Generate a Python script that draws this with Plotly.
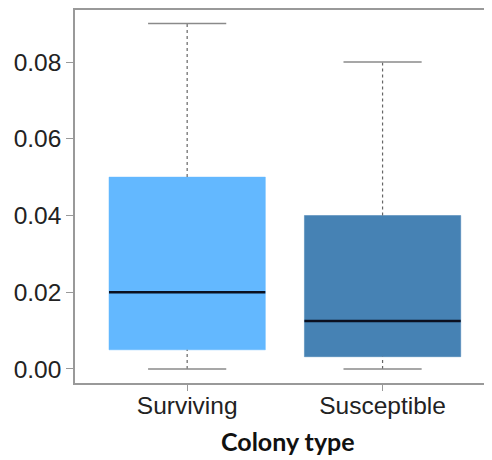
import plotly.graph_objects as go

categories = ["Surviving", "Susceptible"]
q1 = [0.005, 0.0032]
median = [0.020, 0.0125]
q3 = [0.050, 0.040]
lower = [0.0, 0.0]
upper = [0.090, 0.080]
colors = ["#63B8FF", "#4682B4"]
y_ticks = [0.00, 0.02, 0.04, 0.06, 0.08]
y_ticklabels = ["0.00", "0.02", "0.04", "0.06", "0.08"]
x_title = "Colony type"

box_w = 0.8
cap_half = 0.2
pos = list(range(len(categories)))

fig = go.Figure()
for i, c in enumerate(categories):
    # whiskers (dotted)
    fig.add_trace(go.Scatter(x=[pos[i], pos[i]], y=[q3[i], upper[i]], mode="lines",
                             line=dict(color="#666666", width=1.2, dash="dot"),
                             showlegend=False, hoverinfo="skip"))
    fig.add_trace(go.Scatter(x=[pos[i], pos[i]], y=[lower[i], q1[i]], mode="lines",
                             line=dict(color="#666666", width=1.2, dash="dot"),
                             showlegend=False, hoverinfo="skip"))
    # caps
    for v in (upper[i], lower[i]):
        fig.add_trace(go.Scatter(x=[pos[i] - cap_half, pos[i] + cap_half], y=[v, v], mode="lines",
                                 line=dict(color="#8a8a8a", width=1.5),
                                 showlegend=False, hoverinfo="skip"))
    # box body
    fig.add_trace(go.Box(x=[pos[i]], q1=[q1[i]], median=[median[i]], q3=[q3[i]],
                         lowerfence=[q1[i]], upperfence=[q3[i]], name=c,
                         fillcolor=colors[i], line=dict(color=colors[i], width=0.5),
                         width=box_w, whiskerwidth=0, showlegend=False))
    # median line
    fig.add_trace(go.Scatter(x=[pos[i] - box_w / 2, pos[i] + box_w / 2], y=[median[i], median[i]],
                             mode="lines", line=dict(color="#0b1020", width=2.6),
                             showlegend=False, hoverinfo="skip"))

fig.update_layout(
    width=484, height=452,
    margin=dict(l=67, r=0, t=2, b=77, autoexpand=False),
    paper_bgcolor="white", plot_bgcolor="white",
    boxmode="overlay",
    font=dict(family="Liberation Sans, Arial, sans-serif", size=24.5, color="#222222"),
    xaxis=dict(
        range=[-0.574, 1.56], tickvals=pos, ticktext=categories, automargin=False,
        showline=True, linecolor="#999999", linewidth=1.5, mirror=True,
        ticks="outside", ticklen=6, tickcolor="#999999", showgrid=False, zeroline=False,
        ticklabelstandoff=-6,
    ),
    yaxis=dict(
        range=[-0.00365, 0.09355], tickvals=y_ticks, ticktext=y_ticklabels, automargin=False,
        showline=True, linecolor="#999999", linewidth=1.5,
        ticks="outside", ticklen=7, tickcolor="#999999", showgrid=False, zeroline=False,
    ),
    annotations=[dict(text="<b>" + x_title + "</b>", xref="paper", yref="paper",
                      x=(288 - 75) / 417, y=-(441 - 383) / 373, xanchor="center", yanchor="middle",
                      showarrow=False, font=dict(family="Lato, sans-serif", size=25, color="#111111"))],
)

fig.write_html("out.html")
